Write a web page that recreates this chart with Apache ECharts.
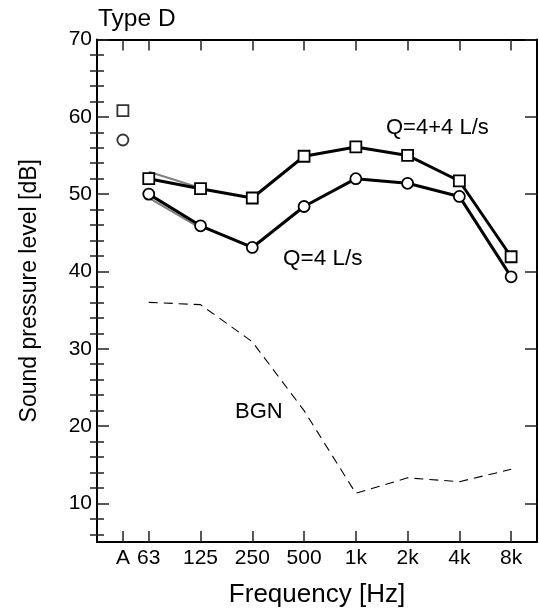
<!DOCTYPE html>
<html><head><meta charset="utf-8">
<script src="https://cdn.jsdelivr.net/npm/echarts@6/dist/echarts.min.js"></script>
<style>html,body{margin:0;padding:0;background:#fff}#c{width:539px;height:615px}</style>
</head><body><div id="c"></div>
<script>
// ---- data ----
const freqLabels = ['A', '63', '125', '250', '500', '1k', '2k', '4k', '8k'];
const q44 = [60.8, 52.0, 50.7, 49.5, 54.9, 56.1, 55.0, 51.7, 41.9];   // Q=4+4 L/s (squares)
const q4  = [57.0, 50.0, 45.9, 43.1, 48.4, 52.0, 51.4, 49.7, 39.3];   // Q=4 L/s (circles)
const q44Gray = [null, 52.9, 50.8];   // faint grey repeat, 63-125 Hz
const q4Gray  = [null, 49.5, 45.6];
const bgn = [null, 36.0, 35.7, 30.9, 22.0, 11.3, 13.3, 12.8, 14.4];  // background noise
const yTickLabels = [10, 20, 30, 40, 50, 60, 70];

// ---- helpers ----
const FONT = '"Liberation Sans", Arial, sans-serif';
const pos = i => (i === 0 ? 0.5 : i);          // 'A' sits half an octave left of 63 Hz
const xTicks = freqLabels.map((_, i) => pos(i));
const pts = (arr, from) => arr.map((v, i) => [pos(i), v]).filter((p, i) => i >= from && p[1] != null);
const yMinor = [];
for (let v = 6; v < 70; v += 2) if (v % 10) yMinor.push(v);

const tickStyle = { color: '#222', width: 1.5 };
const axisLine = { show: true, onZero: false, lineStyle: { color: '#000', width: 2 } };

function yAx(side, ticks, len, labels, extra) {
  return Object.assign({
    type: 'value', position: side, min: 5, max: 70,
    axisLine: axisLine,
    axisTick: { show: true, inside: true, length: len, customValues: ticks, lineStyle: tickStyle },
    axisLabel: labels ? { show: true, customValues: yTickLabels, fontSize: 21, color: '#000', fontFamily: FONT, margin: 5 } : { show: false },
    splitLine: { show: false }
  }, extra || {});
}

const chart = echarts.init(document.getElementById('c'), null, { renderer: 'canvas' });
const markerStyle = { color: '#fff', borderColor: '#000', borderWidth: 1.8 };

chart.setOption({
  animation: false,
  backgroundColor: '#fff',
  grid: { left: 97, right: 2, top: 39.5, bottom: 73 },
  xAxis: [
    {
      type: 'value', position: 'bottom', min: 0, max: 8.5,
      axisLine: axisLine,
      axisTick: { show: true, inside: true, length: 11, customValues: xTicks, lineStyle: tickStyle },
      axisLabel: {
        show: true, customValues: xTicks, fontSize: 21, color: '#000', fontFamily: FONT, margin: 6,
        formatter: v => freqLabels[xTicks.indexOf(v)] || ''
      },
      splitLine: { show: false },
      name: 'Frequency [Hz]', nameLocation: 'middle', nameGap: 40,
      nameTextStyle: { fontSize: 26, color: '#000', fontFamily: FONT }
    },
    {
      type: 'value', position: 'top', min: 0, max: 8.5,
      axisLine: axisLine,
      axisTick: { show: true, inside: true, length: 11, customValues: xTicks, lineStyle: tickStyle },
      axisLabel: { show: false },
      splitLine: { show: false }
    }
  ],
  yAxis: [
    yAx('left', yTickLabels, 12, true, {
      name: 'Sound pressure level [dB]', nameLocation: 'middle', nameGap: 56,
      nameTextStyle: { fontSize: 23, color: '#000', fontFamily: FONT }
    }),
    yAx('left', yMinor, 7, false, { axisLine: { show: false } }),
    yAx('right', yTickLabels, 12, false),
    yAx('right', yMinor, 7, false, { axisLine: { show: false } })
  ],
  series: [
    { type: 'line', data: pts(q44Gray, 1), symbol: 'none', lineStyle: { color: '#808080', width: 2 }, z: 1, silent: true },
    { type: 'line', data: pts(q4Gray, 1), symbol: 'none', lineStyle: { color: '#808080', width: 2 }, z: 1, silent: true },
    { type: 'line', data: pts(bgn, 1), symbol: 'none', lineStyle: { color: '#000', width: 1.1, type: [9, 6] }, z: 2 },
    { type: 'line', name: 'Q=4+4 L/s', data: pts(q44, 1), symbol: 'rect', symbolSize: 11, showAllSymbol: true,
      lineStyle: { color: '#000', width: 3 }, itemStyle: markerStyle, z: 3 },
    { type: 'line', name: 'Q=4 L/s', data: pts(q4, 1), symbol: 'circle', symbolSize: 11, showAllSymbol: true,
      lineStyle: { color: '#000', width: 3 }, itemStyle: markerStyle, z: 3 },
    { type: 'scatter', data: [[pos(0), q44[0]]], symbol: 'rect', symbolSize: 11, itemStyle: markerStyle, z: 3 },
    { type: 'scatter', data: [[pos(0), q4[0]]], symbol: 'circle', symbolSize: 11, itemStyle: markerStyle, z: 3 }
  ],
  graphic: [
    { type: 'text', left: 98, top: 7, style: { text: 'Type D', fontSize: 24.5, fill: '#000', fontFamily: FONT } },
    { type: 'text', left: 386, top: 117, style: { text: 'Q=4+4 L/s', fontSize: 22, fill: '#000', fontFamily: FONT } },
    { type: 'text', left: 283, top: 247, style: { text: 'Q=4 L/s', fontSize: 22.5, fill: '#000', fontFamily: FONT } },
    { type: 'text', left: 235, top: 401, style: { text: 'BGN', fontSize: 22, fill: '#000', fontFamily: FONT } }
  ]
});
</script>
</body></html>
